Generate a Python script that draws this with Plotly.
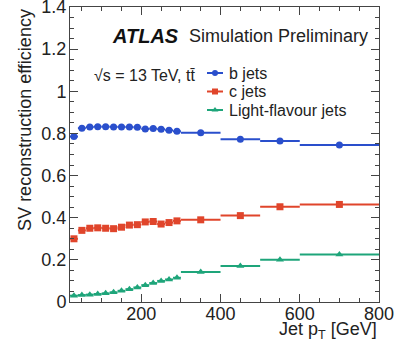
import plotly.graph_objects as go

# ---- data ----
pt_centers = [30, 50, 70, 90, 110, 130, 150, 170, 190, 210, 230, 250, 270, 290, 350, 450, 550, 700]
pt_halfwidth = [10, 10, 10, 10, 10, 10, 10, 10, 10, 10, 10, 10, 10, 10, 50, 50, 50, 100]

b_eff = [0.785, 0.825, 0.830, 0.832, 0.832, 0.831, 0.831, 0.830, 0.829, 0.821, 0.823, 0.820, 0.815, 0.810,
         0.803, 0.772, 0.764, 0.745]
b_err = [0.006, 0.004, 0.004, 0.004, 0.004, 0.004, 0.004, 0.004, 0.004, 0.004, 0.004, 0.004, 0.004, 0.004,
         0.004, 0.005, 0.006, 0.007]

c_eff = [0.300, 0.340, 0.350, 0.352, 0.350, 0.348, 0.355, 0.365, 0.367, 0.380, 0.382, 0.370, 0.377, 0.385,
         0.390, 0.410, 0.452, 0.463]
c_err = [0.008, 0.006, 0.006, 0.006, 0.006, 0.006, 0.006, 0.006, 0.006, 0.006, 0.006, 0.006, 0.006, 0.006,
         0.006, 0.008, 0.010, 0.012]

light_eff = [0.030, 0.033, 0.035, 0.038, 0.041, 0.046, 0.053, 0.061, 0.069, 0.080, 0.090, 0.100, 0.107, 0.115,
             0.142, 0.171, 0.200, 0.225]
light_err = [0.002, 0.002, 0.002, 0.002, 0.002, 0.002, 0.002, 0.002, 0.002, 0.002, 0.002, 0.002, 0.002, 0.002,
             0.002, 0.003, 0.003, 0.004]

series_names = ["b jets", "c jets", "Light-flavour jets"]
series_colors = ["#2A4FCC", "#E0452B", "#1EA57A"]
series_symbols = ["circle", "square", "triangle-up"]
series_sizes = [7, 7, 7]

y_tickvals = [0, 0.2, 0.4, 0.6, 0.8, 1.0, 1.2, 1.4]
y_ticktext = ["0", "0.2", "0.4", "0.6", "0.8", "1", "1.2", "1.4"]
x_tickvals = [200, 400, 600, 800]
x_ticktext = ["200", "400", "600", "800"]

FONT = "Liberation Sans, Arial, Helvetica, sans-serif"
INK = "#222222"

# legend layout in plot-area pixel units (overlay axes x2/y2)
PLOT_L, PLOT_R, PLOT_T, PLOT_B = 70, 379, 7, 302
legend_rows_y = [73, 91.5, 110]
legend_line_x = [207, 223]
legend_marker_x = 215
legend_text_x = 227

fig = go.Figure()
for name, vals, errs, col, sym, sz in zip(series_names, [b_eff, c_eff, light_eff], [b_err, c_err, light_err],
                                         series_colors, series_symbols, series_sizes):
    fig.add_trace(go.Scatter(
        x=pt_centers, y=vals, mode="markers", showlegend=False, name=name,
        marker=dict(symbol=sym, size=sz, color=col),
        error_x=dict(type="data", array=pt_halfwidth, color=col, thickness=2, width=0),
        error_y=dict(type="data", array=errs, color=col, thickness=2, width=0),
    ))

# hand-made legend (line + marker + text), matching the compact ROOT legend
for name, col, sym, sz, ry in zip(series_names, series_colors, series_symbols, series_sizes, legend_rows_y):
    fig.add_trace(go.Scatter(x=legend_line_x, y=[ry, ry], mode="lines", line=dict(color=col, width=2),
                             xaxis="x2", yaxis="y2", showlegend=False, hoverinfo="skip"))
    fig.add_trace(go.Scatter(x=[legend_marker_x], y=[ry], mode="markers",
                             marker=dict(symbol=sym, size=sz - 1, color=col),
                             xaxis="x2", yaxis="y2", showlegend=False, hoverinfo="skip"))
    fig.add_annotation(x=legend_text_x, y=ry, xref="x2", yref="y2", xanchor="left", yanchor="middle",
                       text=name, showarrow=False, font=dict(size=16, family=FONT, color=INK))

W, H = 395, 347
fig.update_layout(
    width=W, height=H,
    margin=dict(l=PLOT_L, r=W - PLOT_R, t=PLOT_T, b=H - PLOT_B, autoexpand=False),
    paper_bgcolor="white", plot_bgcolor="white",
    font=dict(family=FONT, color=INK, size=18),
    showlegend=False,
    xaxis=dict(range=[20, 800], tickvals=x_tickvals, ticktext=x_ticktext, ticks="inside", ticklen=8,
               tickwidth=1, tickcolor="#444", showline=True, linecolor="#444", linewidth=1, mirror="allticks",
               showgrid=False, zeroline=False, tickfont=dict(size=18), ticklabelstandoff=-5,
               ticklabeloverflow="allow", automargin=False,
               minor=dict(dtick=50, tick0=0, ticks="inside", ticklen=4, tickcolor="#444", showgrid=False)),
    yaxis=dict(range=[0, 1.4], tickvals=y_tickvals, ticktext=y_ticktext, ticks="inside", ticklen=8,
               tickwidth=1, tickcolor="#444", showline=True, linecolor="#444", linewidth=1, mirror="allticks",
               showgrid=False, zeroline=False, tickfont=dict(size=18), ticklabelstandoff=-1,
               ticklabeloverflow="allow", automargin=False,
               minor=dict(dtick=0.05, tick0=0, ticks="inside", ticklen=4, tickcolor="#444", showgrid=False)),
    xaxis2=dict(range=[PLOT_L, PLOT_R], overlaying="x", visible=False, fixedrange=True),
    yaxis2=dict(range=[PLOT_B, PLOT_T], overlaying="y", visible=False, fixedrange=True),
)

fig.add_annotation(x=110, y=36, xref="x2", yref="y2", xanchor="left", yanchor="middle",
                   text="<b><i>ATLAS</i></b>", showarrow=False, font=dict(size=20, family=FONT, color="#111"))
fig.add_annotation(x=187, y=36, xref="x2", yref="y2", xanchor="left", yanchor="middle",
                   text="Simulation Preliminary", showarrow=False, font=dict(size=18, family=FONT, color=INK))
fig.add_annotation(x=92, y=75, xref="x2", yref="y2", xanchor="left", yanchor="middle",
                   text="\u221As = 13 TeV, tt\u0304", showarrow=False, font=dict(size=16, family=FONT, color=INK))
fig.add_annotation(x=-0.146, y=1.0, xref="paper", yref="paper", xanchor="center", yanchor="top",
                   textangle=-90, text="SV reconstruction efficiency", showarrow=False,
                   font=dict(size=18, family=FONT, color=INK))
fig.add_annotation(x=1.0, y=-0.095, xref="paper", yref="paper", xanchor="right", yanchor="middle",
                   text="Jet p<sub>T</sub> [GeV]", showarrow=False, font=dict(size=18, family=FONT, color=INK))

fig.write_html("out.html")
